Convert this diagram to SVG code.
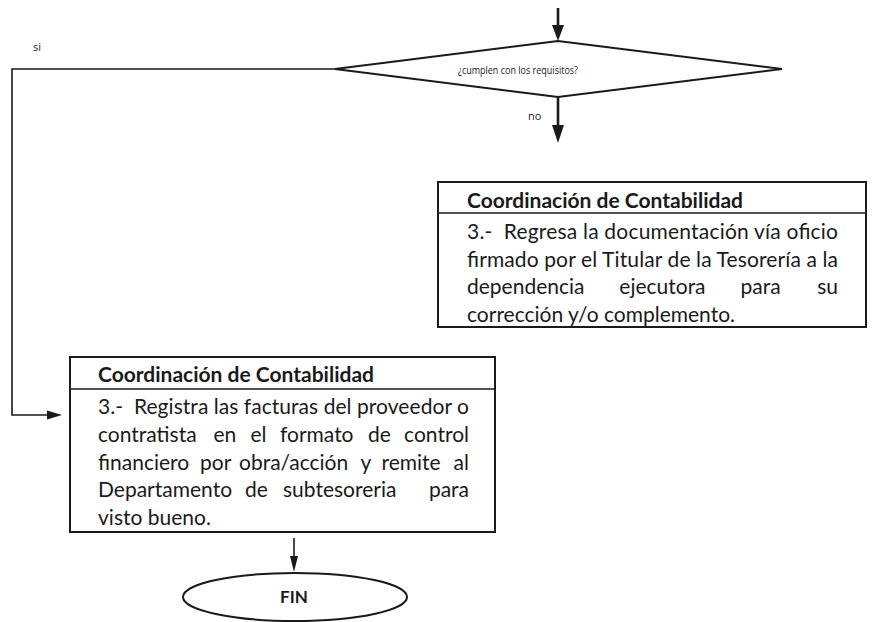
<svg xmlns="http://www.w3.org/2000/svg" width="892" height="622" viewBox="0 0 892 622">
<style>
.bg{fill:#ffffff}
.shape{fill:#ffffff;stroke:#1a1a1a;stroke-width:2}
.line{fill:none;stroke:#1a1a1a;stroke-width:1.6}
.thick{fill:none;stroke:#1a1a1a;stroke-width:2.6}
.head{fill:#1a1a1a;stroke:none}
.small{font-family:"Open Sans","Noto Sans",sans-serif;font-size:11px;fill:#222}
.title{font-family:Lato,"Open Sans",sans-serif;font-size:21px;font-weight:bold;fill:#1a1a1a}
.body{font-family:Lato,"Open Sans",sans-serif;font-size:21px;fill:#1a1a1a}
.fin{font-family:Lato,"Open Sans",sans-serif;font-size:17px;font-weight:bold;fill:#1a1a1a}
.end{text-anchor:end}
</style>
<rect class="bg" x="0" y="0" width="892" height="622"/>

<g id="connectors">
  <line class="thick" x1="558" y1="8" x2="558" y2="27"/>
  <polygon class="head" points="552,25 564,25 558,41"/>
  <line class="thick" x1="558" y1="97" x2="558" y2="127"/>
  <polygon class="head" points="552,125 564,125 558,143"/>
  <polyline class="line" points="335,69 12,69 12,415 50,415"/>
  <polygon class="head" points="47,410.5 62,415 47,419.5"/>
  <line class="line" x1="294" y1="538" x2="294" y2="558"/>
  <polygon class="head" points="290,556 298,556 294,572"/>
  <text class="small" x="33" y="51">si</text>
  <text class="small" x="528" y="120">no</text>
</g>

<g id="decision">
  <polygon class="shape" points="335,69 558,41 782,69 558,97"/>
  <text class="small" x="458" y="74" textLength="120" lengthAdjust="spacingAndGlyphs">¿cumplen con los requisitos?</text>
</g>

<g id="box-regresa">
  <rect class="shape" x="438" y="182" width="428" height="145"/>
  <line class="line" x1="438" y1="213" x2="866" y2="213"/>
  <text class="title" x="467" y="208">Coordinación de Contabilidad</text>
  <text class="body" x="467" y="239" textLength="371" lengthAdjust="spacing" xml:space="preserve">3.-  Regresa la documentación vía oficio</text>
  <text class="body" x="467" y="266.5" textLength="371" lengthAdjust="spacing">firmado por el Titular de la Tesorería a la</text>
  <text class="body" y="294"><tspan x="467">dependencia</tspan><tspan x="619.3">ejecutora</tspan><tspan x="740.6">para</tspan><tspan class="end" x="838">su</tspan></text>
  <text class="body" x="467" y="321.5">corrección y/o complemento.</text>
</g>

<g id="box-registra">
  <rect class="shape" x="70" y="357" width="425" height="175"/>
  <line class="line" x1="70" y1="389" x2="495" y2="389"/>
  <text class="title" x="98" y="382">Coordinación de Contabilidad</text>
  <text class="body" x="98" y="414" textLength="371" lengthAdjust="spacing" xml:space="preserve">3.-  Registra las facturas del proveedor o</text>
  <text class="body" y="442"><tspan x="98">contratista</tspan><tspan x="213.5">en</tspan><tspan x="250.5">el</tspan><tspan x="280">formato</tspan><tspan x="368">de</tspan><tspan class="end" x="469">control</tspan></text>
  <text class="body" y="469.5"><tspan x="98">financiero</tspan><tspan x="200">por</tspan><tspan x="239">obra/acción</tspan><tspan x="360.5">y</tspan><tspan x="381.5">remite</tspan><tspan class="end" x="469">al</tspan></text>
  <text class="body" y="497"><tspan x="98">Departamento</tspan><tspan x="245">de</tspan><tspan x="283">subtesoreria</tspan><tspan class="end" x="469">para</tspan></text>
  <text class="body" x="98" y="524.5">visto bueno.</text>
</g>

<g id="fin">
  <ellipse class="shape" cx="295" cy="597" rx="112" ry="24"/>
  <text class="fin" x="294" y="603" text-anchor="middle">FIN</text>
</g>
</svg>
